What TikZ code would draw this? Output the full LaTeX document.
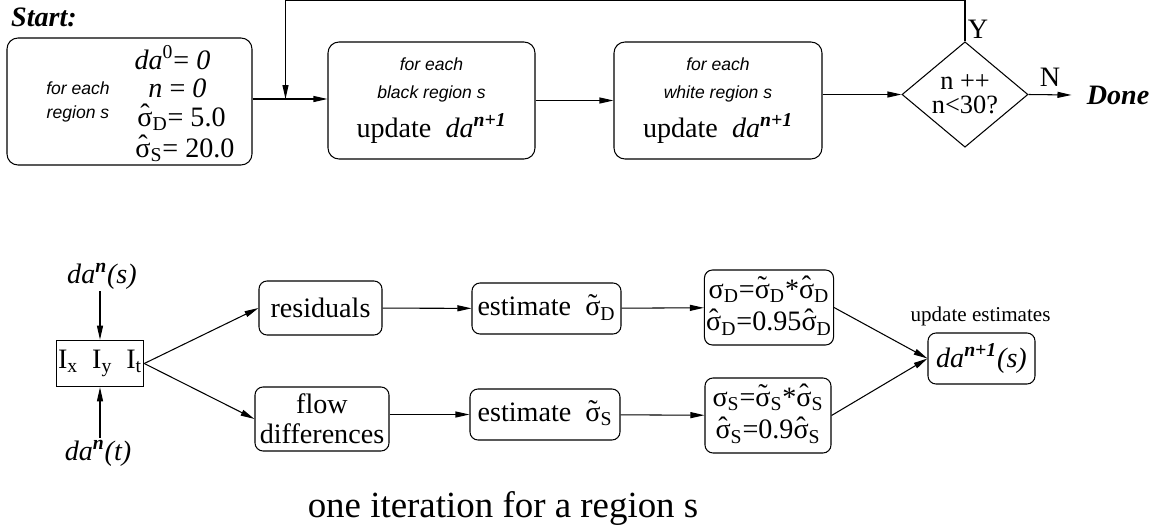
\documentclass[tikz,border=0pt]{standalone}
\usepackage{fontspec}
\setmainfont{Liberation Serif}
\setsansfont{Liberation Sans}
\usetikzlibrary{arrows.meta,shapes.geometric}

\newcommand{\feach}[1]{{\sffamily\itshape\fontsize{10}{12}\selectfont #1}}
\newcommand{\daup}[1]{\textit{da}\textsuperscript{\textbf{\textit{#1}}}}
\newcommand{\accsig}[1]{{\ooalign{σ\cr\hidewidth\raisebox{0.08em}{#1}\hidewidth\cr}}}
\newcommand{\shat}[1]{\accsig{ˆ}\textsubscript{#1}}
\newcommand{\stld}[1]{\accsig{˜}\textsubscript{#1}}
\newcommand{\ssig}[1]{σ\textsubscript{#1}}

\begin{document}
\begin{tikzpicture}[
  every node/.style={inner sep=1pt, font=\fontsize{16}{16}\selectfont},
  every path/.style={line width=0.6pt},
  >={Triangle[length=2.8mm,width=1.2mm]},
  box/.style={draw, rounded corners=0.22cm, align=center},
  cell/.style={draw, rounded corners=0.16cm, align=center},
  dec/.style={draw, diamond, inner sep=0pt, align=center},
  title/.style={font=\bfseries\itshape\fontsize{16}{16}\selectfont}
]
  \useasboundingbox (0,0) rectangle (23.28,10.58);

  \node[title] (start) at (0.88,10.24) {Start:};
  \node[box, minimum width=4.9cm, minimum height=2.54cm] (init) at (2.59,8.55) {};
  \node[font=\sffamily\itshape\fontsize{10}{13.7}\selectfont, align=center] (each) at (1.56,8.54) {for each\\region s};
  \node[anchor=base, inner sep=0pt] (eqa) at (3.45,9.19) {\textit{da}\textsuperscript{0}= \textit{0}};
  \node[anchor=base, inner sep=0pt] (eqb) at (3.55,8.64) {\textit{n} = \textit{0}};
  \node[anchor=base, inner sep=0pt] (eqc) at (3.63,8.06) {\shat{D}= 5.0};
  \node[anchor=base, inner sep=0pt] (eqd) at (3.70,7.44) {\shat{S}= 20.0};

  \node[box, minimum width=4.14cm, minimum height=2.34cm] (black) at (8.63,8.57)
    {\feach{for each}\\ \feach{black region s}\\[6pt] update~~\daup{n+1}};
  \node[box, minimum width=4.16cm, minimum height=2.34cm] (white) at (14.36,8.57)
    {\feach{for each}\\ \feach{white region s}\\[6pt] update~~\daup{n+1}};
  \node[dec, minimum width=2.52cm, minimum height=1.85cm, font=\fontsize{15}{13.7}\selectfont] (dia) at (19.3,8.69)
    {n ++\\n<30?};
  \node (yes) at (19.56,10.0) {Y};
  \node (no) at (21.0,9.04) {N};
  \node[title] (done) at (22.36,8.68) {Done};

  \coordinate (join) at (5.71,8.6);
  \coordinate (top) at (5.71,10.57);

  \draw[->] (init.east |- join) -- (black.west |- join);
  \draw[->] (dia.north) |- (top) -- (join);
  \draw[->] (black.east) -- (white.west);
  \draw[->] (white.east |- dia) -- (dia.west);
  \draw[->] (dia.east) -- ([xshift=-0.26cm]done.west);

  \node (dasn) at (2.04,5.06) {\daup{n}\textit{(s)}};
  \node[draw, minimum width=1.72cm, minimum height=0.93cm] (ibox) at (2.0,3.31)
    {I\textsubscript{x}~~I\textsubscript{y}~~I\textsubscript{t}};
  \node (dant) at (1.96,1.52) {\daup{n}\textit{(t)}};

  \node[cell, minimum width=2.46cm, minimum height=1.08cm] (res) at (6.41,4.42) {residuals};
  \node[cell, minimum width=2.68cm, minimum height=1.28cm, font=\fontsize{16}{17}\selectfont] (flow) at (6.44,2.2)
    {flow\\differences};
  \node[cell, minimum width=2.98cm, minimum height=1.02cm] (estD) at (10.93,4.41) {estimate~~\stld{D}};
  \node[cell, minimum width=3.0cm, minimum height=1.02cm] (estS) at (10.9,2.29) {estimate~~\stld{S}};
  \node[cell, minimum width=2.52cm, minimum height=1.5cm, font=\fontsize{16}{18.5}\selectfont] (sigD) at (15.38,4.43)
    {\ssig{D}=\stld{D}*\shat{D}\\\shat{D}=0.95\shat{D}};
  \node[cell, minimum width=2.52cm, minimum height=1.5cm, font=\fontsize{16}{18.5}\selectfont] (sigS) at (15.36,2.27)
    {\ssig{S}=\stld{S}*\shat{S}\\\shat{S}=0.9\shat{S}};
  \node[cell, minimum width=2.14cm, minimum height=1.02cm] (dan1) at (19.63,3.41) {\daup{n+1}\textit{(s)}};
  \node[font=\fontsize{12}{12}\selectfont] (upd) at (19.61,4.26) {update estimates};

  \draw[->] (dasn.south -| ibox.north) -- (ibox.north);
  \draw[->] (dant.north -| ibox.south) -- (ibox.south);
  \draw[->] (ibox.east) -- (res.west);
  \draw[->] (ibox.east) -- (flow.west);
  \draw[->] (res) -- (estD);
  \draw[->] (flow.east |- estS) -- (estS.west);
  \draw[->] (estD) -- (sigD);
  \draw[->] (estS) -- (sigS);
  \draw[->] (sigD.east) -- (dan1.west);
  \draw[->] (sigS.east) -- (dan1.west);

  \node[font=\fontsize{21}{21}\selectfont, anchor=base] (cap) at (10.06,0.24) {one iteration for a region s};
\end{tikzpicture}
\end{document}
